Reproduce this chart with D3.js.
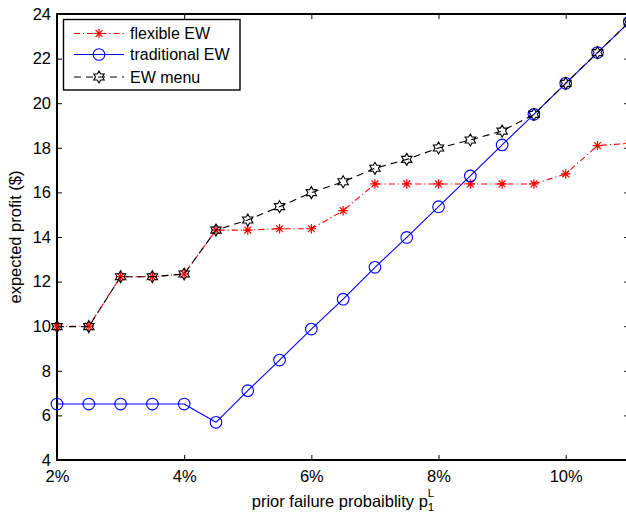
<!DOCTYPE html>
<html><head><meta charset="utf-8">
<script src="https://cdn.jsdelivr.net/npm/d3@7"></script>
<style>body{margin:0;background:#fff}svg{display:block}text{font-family:"Liberation Sans",Arial,Helvetica,sans-serif}</style>
</head><body><svg id="c" width="626" height="513"></svg>
<script>
const xValues = [2,2.5,3,3.5,4,4.5,5,5.5,6,6.5,7,7.5,8,8.5,9,9.5,10,10.5,11];
const flexibleEW = [10,10,12.22,12.22,12.34,14.31,14.31,14.37,14.37,15.18,16.38,16.38,16.38,16.38,16.38,16.38,16.83,18.1,18.2];
const traditionalEW = [6.51,6.51,6.51,6.51,6.51,5.69,7.11,8.48,9.87,11.21,12.64,13.98,15.36,16.74,18.13,19.5,20.89,22.27,23.64];
const ewMenu = [9.98,9.98,12.22,12.22,12.34,14.31,14.76,15.36,15.99,16.48,17.08,17.48,17.99,18.35,18.75,19.5,20.89,22.27,23.64];
const xTicks = [2,4,6,8,10];
const xTickLabels = ["2%","4%","6%","8%","10%"];
const yTicks = [4,6,8,10,12,14,16,18,20,22,24];
const seriesNames = ["flexible EW","traditional EW","EW menu"];

const svg = d3.select("#c");
const L=57, R=629.3, T=14, B=460;
const x = d3.scaleLinear().domain([2,11]).range([L,R]);
const y = d3.scaleLinear().domain([4,24]).range([B,T]);
const FS = 16.5;

// axes (ticks inward)
const gB = svg.append("g").attr("transform",`translate(0,${B})`)
  .call(d3.axisBottom(x).tickValues(xTicks).tickSize(-5).tickPadding(10).tickFormat((d,i)=>xTickLabels[i]));
const gT = svg.append("g").attr("transform",`translate(0,${T})`)
  .call(d3.axisTop(x).tickValues(xTicks).tickSize(-5).tickFormat(""));
const gL = svg.append("g").attr("transform",`translate(${L},0)`)
  .call(d3.axisLeft(y).tickValues(yTicks).tickSize(-5).tickPadding(6));
const gR = svg.append("g").attr("transform",`translate(${R},0)`)
  .call(d3.axisRight(y).tickValues(yTicks).tickSize(-5).tickFormat(""));
[gB,gT,gL,gR].forEach(g=>{
  g.selectAll(".domain").remove();
  g.selectAll("line").attr("stroke","#000").attr("stroke-width",1);
  g.selectAll("text").attr("font-size",FS).attr("fill","#000").attr("font-family",'"Liberation Sans",Arial,sans-serif');
});
svg.append("rect").attr("x",L).attr("y",T).attr("width",R-L).attr("height",B-T)
  .attr("fill","none").attr("stroke","#000").attr("stroke-width",2);

// marker generators
function asterisk(r){const a=r*0.707;return `M${-r},0L${r},0M0,${-r}L0,${r}M${-a},${-a}L${a},${a}M${-a},${a}L${a},${-a}`;}
function hexagram(R){const r=R/Math.sqrt(3);let p="";for(let i=0;i<12;i++){const ang=-Math.PI/2+i*Math.PI/6;const rr=i%2===0?R:r;p+=(i?"L":"M")+(rr*Math.cos(ang)).toFixed(2)+","+(rr*Math.sin(ang)).toFixed(2);}return p+"Z";}

const plot = svg.append("g");
const line = d3.line().x((d,i)=>x(xValues[i])).y(d=>y(d));

const series = [
  {name:seriesNames[0], data:flexibleEW, color:"#ff0000", dash:"6,3,1.2,3", marker:"ast"},
  {name:seriesNames[1], data:traditionalEW, color:"#0000ff", dash:null, marker:"circle"},
  {name:seriesNames[2], data:ewMenu, color:"#000000", dash:"7,5", marker:"hex"}
];

function drawMarker(g,type,color,cx,cy){
  if(type==="ast") g.append("path").attr("d",asterisk(4.8)).attr("transform",`translate(${cx},${cy})`).attr("stroke",color).attr("stroke-width",1.2).attr("fill","none");
  else if(type==="circle") g.append("circle").attr("cx",cx).attr("cy",cy).attr("r",5.8).attr("stroke",color).attr("stroke-width",1.1).attr("fill","none");
  else g.append("path").attr("d",hexagram(6)).attr("transform",`translate(${cx},${cy})`).attr("stroke",color).attr("stroke-width",1.1).attr("fill","none");
}

series.forEach(s=>{
  plot.append("path").datum(s.data).attr("d",line).attr("fill","none")
    .attr("stroke",s.color).attr("stroke-width",1.1).attr("stroke-dasharray",s.dash);
  const mg = plot.append("g");
  s.data.forEach((v,i)=>drawMarker(mg,s.marker,s.color,x(xValues[i]),y(v)));
});

// legend
const lg = svg.append("g");
lg.append("rect").attr("x",63.5).attr("y",19.5).attr("width",176.5).attr("height",70.5).attr("fill","#fff").attr("stroke","#000").attr("stroke-width",1.4);
const legY=[33.5,54.5,77];
series.forEach((s,i)=>{
  lg.append("line").attr("x1",74).attr("x2",124).attr("y1",legY[i]).attr("y2",legY[i])
    .attr("stroke",s.color).attr("stroke-width",1.1).attr("stroke-dasharray",s.dash);
  drawMarker(lg,s.marker,s.color,99,legY[i]);
  lg.append("text").attr("x",130).attr("y",legY[i]+5.8).attr("font-size",16).text(s.name);
});

// axis labels
const xl = svg.append("text").attr("x",343).attr("y",507).attr("text-anchor","middle").attr("font-size",FS);
xl.append("tspan").text("prior failure probaiblity p");
xl.append("tspan").attr("font-size",11.5).attr("dy",4).text("1");
xl.append("tspan").attr("font-size",11.5).attr("dx",-6.5).attr("dy",-14).text("L");
svg.append("text").attr("transform",`translate(21,${(T+B)/2}) rotate(-90)`).attr("text-anchor","middle").attr("font-size",FS).text("expected profit ($)");
</script></body></html>
